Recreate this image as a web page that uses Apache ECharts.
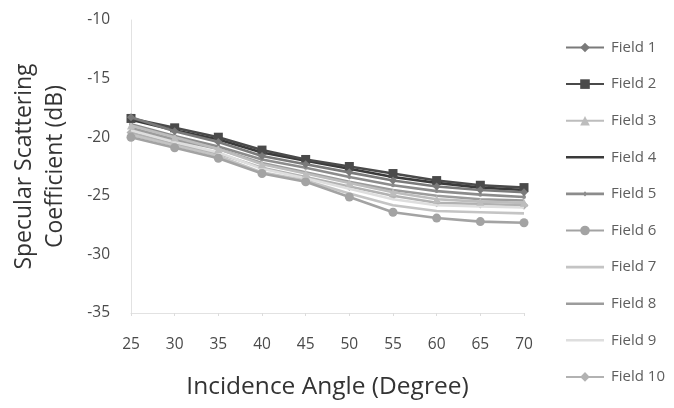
<!DOCTYPE html>
<html>
<head>
<meta charset="utf-8">
<script src="https://cdn.jsdelivr.net/npm/echarts@6/dist/echarts.min.js"></script>
<style>
  html, body { margin: 0; padding: 0; background: #fff; }
  #chart { width: 674px; height: 408px; }
</style>
</head>
<body>
<div id="chart"></div>
<script>
// Incidence angles (degrees)
const angles = [25, 30, 35, 40, 45, 50, 55, 60, 65, 70];

// Specular scattering coefficient (dB) per field
const field1  = [-18.3, -19.5, -20.4, -21.6, -22.3, -23.0, -23.7, -24.2, -24.5, -24.7];
const field2  = [-18.4, -19.2, -20.0, -21.1, -21.9, -22.5, -23.1, -23.7, -24.1, -24.3];
const field3  = [-19.0, -20.0, -21.0, -22.3, -23.1, -23.9, -24.7, -25.3, -25.5, -25.6];
const field4  = [-18.5, -19.4, -20.2, -21.3, -22.0, -22.7, -23.4, -23.9, -24.3, -24.5];
const field5  = [-18.9, -19.9, -20.8, -21.9, -22.6, -23.4, -24.1, -24.6, -24.9, -25.1];
const field6  = [-20.0, -20.9, -21.8, -23.1, -23.8, -25.1, -26.4, -26.9, -27.2, -27.3];
const field7  = [-19.8, -20.7, -21.6, -23.0, -23.7, -24.8, -25.8, -26.3, -26.4, -26.5];
const field8  = [-19.2, -20.2, -21.0, -22.2, -23.0, -23.8, -24.5, -25.0, -25.3, -25.4];
const field9  = [-19.4, -20.4, -21.3, -22.7, -23.5, -24.4, -25.3, -25.8, -25.9, -26.0];
const field10 = [-19.6, -20.6, -21.4, -22.6, -23.4, -24.2, -25.0, -25.6, -25.7, -25.8];

const fieldNames = ['Field 1', 'Field 2', 'Field 3', 'Field 4', 'Field 5',
                    'Field 6', 'Field 7', 'Field 8', 'Field 9', 'Field 10'];
const fieldValues = [field1, field2, field3, field4, field5,
                     field6, field7, field8, field9, field10];

// Y axis range (dB)
const yMin = -35, yMax = -10, yStep = 5;

// Per-series look: colour, marker, marker size
const looks = [
  { color: '#7a7a7a', symbol: 'diamond',  size: 8 },
  { color: '#4a4a4a', symbol: 'rect',     size: 9 },
  { color: '#bdbdbd', symbol: 'triangle', size: 8 },
  { color: '#3a3a3a', symbol: 'none',     size: 0 },
  { color: '#8c8c8c', symbol: 'circle',   size: 4 },
  { color: '#a3a3a3', symbol: 'circle',   size: 9 },
  { color: '#c4c4c4', symbol: 'none',     size: 0 },
  { color: '#9c9c9c', symbol: 'none',     size: 0 },
  { color: '#dedede', symbol: 'none',     size: 0 },
  { color: '#b2b2b2', symbol: 'diamond',  size: 9 }
];

const FONT = '"Open Sans", Lato, sans-serif';
const LEGEND_W = 38, LEGEND_H = 12;

// Legend swatch: a bar through the middle, plus two near-zero specks
// that pin the icon box to full height so the bar is not stretched.
function swatch(extra) {
  const m = LEGEND_H / 2;
  return 'path://M0,' + (m - 1.3) + 'H' + LEGEND_W + 'V' + (m + 1.3) + 'H0Z' +
    'M0,0h0.01v0.01h-0.01Z' +
    'M' + LEGEND_W + ',' + LEGEND_H + 'h-0.01v-0.01h0.01Z' + (extra || '');
}
// Small dot in the middle of the swatch (Field 5)
const cx = LEGEND_W / 2, cy = LEGEND_H / 2, r = 2.6;
const dotSwatch = swatch('M' + (cx - r) + ',' + cy + 'L' + cx + ',' + (cy - r) + 'L' + (cx + r) + ',' + cy +
  'L' + cx + ',' + (cy + r) + 'Z');

const legendData = fieldNames.map((name, i) => {
  if (looks[i].symbol === 'none') return { name: name, icon: swatch() };
  if (i === 4) return { name: name, icon: dotSwatch };
  return { name: name };
});

const series = fieldNames.map((name, i) => ({
  name: name,
  type: 'line',
  data: angles.map((a, j) => [a, fieldValues[i][j]]),
  symbol: looks[i].symbol,
  symbolSize: looks[i].size,
  showSymbol: looks[i].symbol !== 'none',
  lineStyle: { color: looks[i].color, width: 2.6 },
  itemStyle: { color: looks[i].color },
  z: 10 - i
}));

const chart = echarts.init(document.getElementById('chart'), null, { renderer: 'canvas' });
chart.setOption({
  animation: false,
  backgroundColor: '#ffffff',
  grid: { left: 131, right: 150, top: 20, bottom: 95, containLabel: false, outerBoundsMode: 'none' },
  legend: {
    orient: 'vertical',
    left: 565,
    top: 40,
    padding: 0,
    itemWidth: LEGEND_W,
    itemHeight: LEGEND_H,
    itemGap: 21.6,
    symbolKeepAspect: false,
    data: legendData,
    textStyle: { fontFamily: FONT, fontSize: 15, color: '#5e5e5e', padding: [0, 0, 0, 2] }
  },
  xAxis: {
    type: 'value',
    min: 25,
    max: 70,
    interval: 5,
    name: 'Incidence Angle (Degree)',
    nameLocation: 'middle',
    nameGap: 62,
    nameTextStyle: { fontFamily: FONT, fontSize: 24.5, color: '#333333' },
    axisLine: { show: true, lineStyle: { color: '#e2e2e2', width: 1 } },
    axisTick: { show: true, inside: false, length: 3, lineStyle: { color: '#dcdcdc' } },
    axisLabel: { margin: 24, fontFamily: FONT, fontSize: 15.5, color: '#4a4a4a' },
    splitLine: { show: false }
  },
  yAxis: {
    type: 'value',
    min: yMin,
    max: yMax,
    interval: yStep,
    name: 'Specular Scattering\nCoefficient (dB)',
    nameLocation: 'middle',
    nameRotate: 90,
    nameGap: 60.5,
    nameTextStyle: { fontFamily: FONT, fontSize: 23, color: '#333333', lineHeight: 31, align: 'center' },
    axisLine: { show: true, onZero: false, lineStyle: { color: '#e2e2e2', width: 1 } },
    axisTick: { show: false },
    axisLabel: { margin: 21, fontFamily: FONT, fontSize: 15.5, color: '#4a4a4a' },
    splitLine: { show: false }
  },
  series: series
});
</script>
</body>
</html>
